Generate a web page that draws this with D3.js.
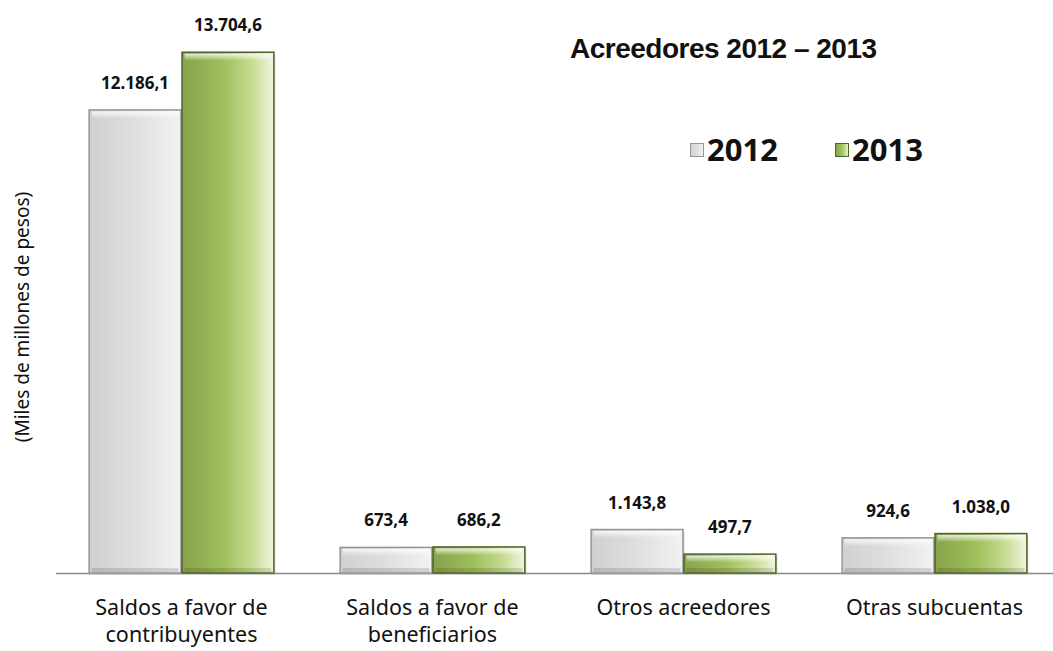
<!DOCTYPE html>
<html>
<head>
<meta charset="utf-8">
<script src="https://cdn.jsdelivr.net/npm/d3@7"></script>
<style>
  body { margin: 0; background: #fff; }
  svg { display: block; }
</style>
</head>
<body>
<div id="chart"></div>
<script>
const categories = [
  ["Saldos a favor de", "contribuyentes"],
  ["Saldos a favor de", "beneficiarios"],
  ["Otros acreedores"],
  ["Otras subcuentas"]
];
const seriesNames = ["2012", "2013"];
const values2012 = [12186.1, 673.4, 1143.8, 924.6];
const values2013 = [13704.6, 686.2, 497.7, 1038.0];
const yMax = 14000;

const W = 1053, H = 651;
const baseY = 573;

const svg = d3.select("#chart").append("svg")
  .attr("width", W).attr("height", H);

const defs = svg.append("defs");
function grad(id, stops) {
  const g = defs.append("linearGradient").attr("id", id)
    .attr("x1", "0%").attr("x2", "100%").attr("y1", "0%").attr("y2", "0%");
  stops.forEach(s => g.append("stop").attr("offset", s[0]).attr("stop-color", s[1]));
}
grad("g2012", [[0, "#d0d0d0"], [0.5, "#dfdfdf"], [1, "#f2f2f2"]]);
grad("g2013", [[0, "#86a34a"], [0.45, "#a0bf5c"], [0.75, "#c4da8f"], [1, "#eff6dd"]]);
const vg = defs.append("linearGradient").attr("id", "bevelTop")
  .attr("x1", 0).attr("x2", 0).attr("y1", 0).attr("y2", 1);
vg.append("stop").attr("offset", 0).attr("stop-color", "#fff").attr("stop-opacity", 0.8);
vg.append("stop").attr("offset", 1).attr("stop-color", "#fff").attr("stop-opacity", 0);

const fills = { "2012": "url(#g2012)", "2013": "url(#g2013)" };
const strokes = { "2012": "#959595", "2013": "#4f6228" };

const data = categories.map((c, i) => ({
  cat: c.join(" "), lines: c,
  vals: [{ key: "2012", v: values2012[i] }, { key: "2013", v: values2013[i] }]
}));

const x0 = d3.scaleBand()
  .domain(data.map(d => d.cat))
  .range([56, 1060])
  .paddingInner(0.26)
  .paddingOuter(0.13);
const x1 = d3.scaleBand().domain(seriesNames).range([0, x0.bandwidth()]);
const y = d3.scaleLinear().domain([0, yMax]).range([baseY, 41]);

const fmt = v => {
  const s = v.toFixed(1).split(".");
  return s[0].replace(/\B(?=(\d{3})+(?!\d))/g, ".") + "," + s[1];
};

// axis line
svg.append("line")
  .attr("x1", 56).attr("x2", W).attr("y1", baseY + 0.5).attr("y2", baseY + 0.5)
  .attr("stroke", "#888").attr("stroke-width", 1.3);

const groups = svg.selectAll(".grp").data(data).join("g")
  .attr("class", "grp")
  .attr("transform", d => `translate(${x0(d.cat)},0)`);

const bars = groups.selectAll(".bar").data(d => d.vals).join("g").attr("class", "bar");

// shadow
bars.append("rect")
  .attr("x", d => x1(d.key) + 1)
  .attr("y", d => y(d.v) + 2)
  .attr("width", x1.bandwidth())
  .attr("height", d => baseY - y(d.v))
  .attr("fill", "#bdbdbd").attr("opacity", 0.6);

bars.append("rect")
  .attr("x", d => x1(d.key) + 0.5)
  .attr("y", d => y(d.v))
  .attr("width", x1.bandwidth() - 1)
  .attr("height", d => baseY - y(d.v))
  .attr("fill", d => fills[d.key])
  .attr("stroke", d => strokes[d.key])
  .attr("stroke-width", 1.5);

// bevel highlight on top
bars.append("rect")
  .attr("x", d => x1(d.key) + 3)
  .attr("y", d => y(d.v) + 1.5)
  .attr("width", x1.bandwidth() - 6)
  .attr("height", 7)
  .attr("fill", "url(#bevelTop)");
// bevel dark on bottom
bars.append("rect")
  .attr("x", d => x1(d.key) + 3)
  .attr("y", baseY - 5)
  .attr("width", x1.bandwidth() - 6)
  .attr("height", 4)
  .attr("fill", "#000").attr("opacity", 0.12);

// value labels
groups.selectAll(".val").data(d => d.vals).join("text")
  .attr("class", "val")
  .attr("x", d => x1(d.key) + x1.bandwidth() / 2)
  .attr("y", d => y(d.v) - 21)
  .attr("text-anchor", "middle")
  .attr("font-family", "Noto Sans, sans-serif")
  .attr("font-weight", "bold")
  .attr("font-size", 17)
  .attr("fill", "#111")
  .text(d => fmt(d.v));

// category labels
groups.append("text")
  .attr("text-anchor", "middle")
  .attr("font-family", "Noto Sans, sans-serif")
  .attr("font-size", 21.5)
  .attr("fill", "#111")
  .selectAll("tspan").data(d => d.lines).join("tspan")
  .attr("x", x0.bandwidth() / 2)
  .attr("y", (d, i) => 615 + i * 27)
  .text(d => d);

// y axis title
svg.append("text")
  .attr("transform", "translate(29,317) rotate(-90)")
  .attr("text-anchor", "middle")
  .attr("font-family", "Noto Sans, sans-serif")
  .attr("font-size", 19)
  .attr("fill", "#111")
  .text("(Miles de millones de pesos)");

// title
svg.append("text")
  .attr("x", 570).attr("y", 58)
  .attr("font-family", "Liberation Sans, Arial, sans-serif")
  .attr("font-weight", "bold")
  .attr("font-size", 28)
  .attr("letter-spacing", -0.5)
  .attr("fill", "#111")
  .text("Acreedores 2012 \u2013 2013");

// legend
const legend = svg.selectAll(".leg").data(seriesNames).join("g")
  .attr("class", "leg")
  .attr("transform", (d, i) => `translate(${690 + i * 145},143)`);
legend.append("rect")
  .attr("x", 0.5).attr("y", 0.5).attr("width", 13).attr("height", 13)
  .attr("fill", d => fills[d]).attr("stroke", d => strokes[d]).attr("stroke-width", 1);
legend.append("text")
  .attr("x", 17).attr("y", 18)
  .attr("font-family", "Noto Sans, sans-serif")
  .attr("font-weight", "bold")
  .attr("font-size", 31)
  .attr("fill", "#111")
  .text(d => d);
</script>
</body>
</html>
